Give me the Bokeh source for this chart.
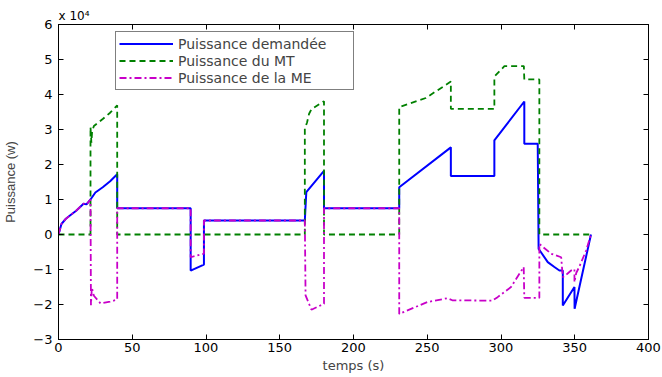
from bokeh.plotting import figure
from bokeh.models import LinearAxis, FixedTicker, Range1d, Legend, LegendItem
from bokeh.embed import file_html
from bokeh.resources import INLINE

# Time axis (s) and power values (x 10^4 W) for each series
t_dem = [0, 2, 5, 8, 12, 15, 17, 19, 21.7, 25, 30, 35, 39.8, 39.8, 89.6, 89.6,
         98.6, 98.6, 167, 168, 180, 180, 231, 231, 266, 266, 295.5, 295.5,
         315.8, 315.8, 324.9, 325.5, 327, 331.7, 336.2, 339.6, 341.9, 341.9,
         349.8, 349.9, 361]
p_dem = [0, 0.3, 0.45, 0.55, 0.68, 0.8, 0.88, 0.86, 1.0, 1.2, 1.35, 1.52, 1.72,
         0.75, 0.75, -1.03, -0.86, 0.4, 0.4, 1.21, 1.82, 0.75, 0.75, 1.35, 2.49,
         1.67, 1.67, 2.69, 3.8, 2.59, 2.59, -0.41, -0.5, -0.79, -0.93, -1.03,
         -1.03, -2.03, -1.5, -2.12, 0]

t_mt = [0, 21.7, 21.7, 22.3, 22.8, 24, 30, 35, 39.8, 39.8, 167, 167, 168.5,
        169.9, 171.5, 173.3, 180, 180, 231, 231, 249, 266, 266, 295.5, 295.5,
        302.3, 315.5, 315.8, 326, 326, 361]
p_mt = [0, 0, 3.07, 2.62, 2.95, 3.1, 3.3, 3.48, 3.69, 0, 0, 3.02, 3.2, 3.45,
        3.58, 3.63, 3.81, 0, 0, 3.64, 3.9, 4.37, 3.59, 3.59, 4.51, 4.81, 4.81,
        4.43, 4.43, 0, 0]

t_me = [0, 2, 5, 8, 12, 15, 17, 19, 21.7, 22.0, 22.6, 24, 28.5, 35, 39.8, 39.8,
        89.6, 89.6, 98.6, 98.6, 167, 167.5, 171.5, 180, 180, 231, 231, 250,
        263.8, 267, 294, 297.7, 306.8, 315.4, 315.8, 326, 326, 334, 340.8,
        341.9, 345, 347.5, 349.8, 349.8, 351, 353, 357.7, 361]
p_me = [0, 0.3, 0.45, 0.55, 0.68, 0.8, 0.88, 0.86, 1.0, -2.02, -1.52, -1.75,
        -1.97, -1.92, -1.86, 0.75, 0.75, -0.65, -0.55, 0.4, 0.4, -1.74, -2.15,
        -1.98, 0.75, 0.75, -2.27, -1.93, -1.82, -1.88, -1.89, -1.79, -1.5,
        -0.93, -1.81, -1.81, -0.27, -0.55, -0.65, -1.22, -1.12, -1.03, -0.99,
        -1.36, -1.1, -0.93, -0.46, 0]

x_ticks = [0, 50, 100, 150, 200, 250, 300, 350, 400]
y_ticks = [-3, -2, -1, 0, 1, 2, 3, 4, 5, 6]

series_names = ["Puissance demandée", "Puissance du MT", "Puissance de la ME"]

FONT = "DejaVu Sans"

p = figure(width=662, height=377, output_backend="svg", toolbar_location=None,
           x_range=Range1d(0, 400), y_range=Range1d(-3, 6),
           min_border_left=58, min_border_right=14, min_border_top=24,
           min_border_bottom=38, background_fill_color="white",
           border_fill_color="white")
p.grid.visible = False
p.outline_line_color = "black"
p.outline_line_width = 1

# Scale multiplier of the y axis, shown above its top end
p.title.text = "x 10\u2074"
p.title.align = "left"
p.title.offset = 0
p.title.text_font = FONT
p.title.text_font_size = "12px"
p.title.text_font_style = "normal"
p.title.text_color = "black"
p.title.standoff = 3

r_dem = p.line(t_dem, p_dem, line_color="#0000ff", line_width=2)
r_mt = p.line(t_mt, p_mt, line_color="#008000", line_width=1.8,
              line_dash="6 4")
r_me = p.line(t_me, p_me, line_color="#c800c8", line_width=1.8,
              line_dash="7 3 2 3")


def style_axis(ax, ticks, show_labels):
    ax.ticker = FixedTicker(ticks=ticks)
    ax.major_tick_in = 5
    ax.major_tick_out = 0
    ax.minor_tick_line_color = None
    ax.axis_line_color = "black"
    ax.major_tick_line_color = "black"
    if show_labels:
        ax.major_label_text_font = FONT
        ax.major_label_text_font_size = "13px"
        ax.major_label_text_color = "black"
    else:
        # box edges: tick marks only
        ax.major_label_text_color = None
        ax.major_label_text_font_size = "1px"
        ax.major_label_standoff = 0


p.add_layout(LinearAxis(), "above")
p.add_layout(LinearAxis(), "right")

xb = p.below[0]
yl = p.left[0]
style_axis(xb, x_ticks, True)
style_axis(yl, y_ticks, True)
style_axis(p.above[0], x_ticks, False)
style_axis(p.right[0], y_ticks, False)

xb.major_label_standoff = 3
xb.axis_label = "temps (s)"
xb.axis_label_text_font = FONT
xb.axis_label_text_font_size = "13px"
xb.axis_label_text_font_style = "normal"
xb.axis_label_standoff = 3

yl.major_label_standoff = 6
yl.axis_label = "Puissance (w)"
yl.axis_label_text_font = "Liberation Sans"
yl.axis_label_text_font_size = "13px"
yl.axis_label_text_font_style = "normal"
yl.axis_label_standoff = 12

legend = Legend(items=[LegendItem(label=series_names[0], renderers=[r_dem]),
                       LegendItem(label=series_names[1], renderers=[r_mt]),
                       LegendItem(label=series_names[2], renderers=[r_me])],
                location=(57, 249))
legend.label_text_font = FONT
legend.label_text_font_size = "14px"
legend.label_height = 17
legend.glyph_height = 17
legend.glyph_width = 54
legend.label_width = 172
legend.label_standoff = 5
legend.spacing = 0
legend.padding = 3
legend.margin = 0
legend.border_line_color = "black"
legend.border_line_width = 1
legend.background_fill_color = "white"
legend.background_fill_alpha = 1
p.add_layout(legend, "center")

open("out.html", "w").write(file_html(p, INLINE))
